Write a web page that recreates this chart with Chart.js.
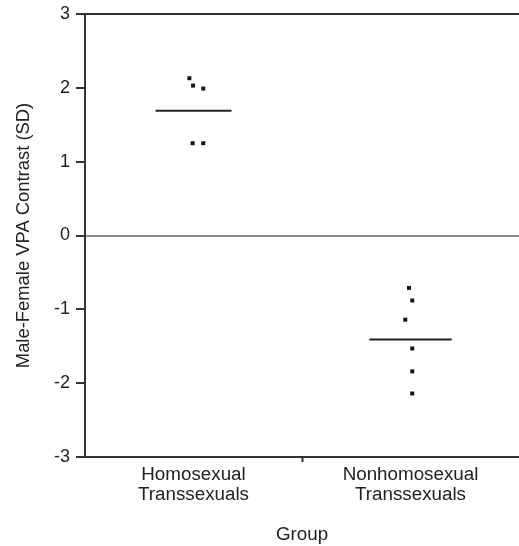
<!DOCTYPE html>
<html>
<head>
<meta charset="utf-8">
<script src="https://cdn.jsdelivr.net/npm/chart.js@4/dist/chart.umd.min.js"></script>
<style>
  html, body { margin: 0; padding: 0; background: #fff; overflow: hidden; }
  #wrap { width: 519px; height: 546px; position: relative; }
</style>
</head>
<body>
<div id="wrap"><canvas id="c"></canvas></div>
<script>
// ---- data ----
const categories = [['Homosexual', 'Transsexuals'], ['Nonhomosexual', 'Transsexuals']];
const homoValues = [2.13, 2.03, 1.99, 1.25, 1.25];
const homoJitter = [-0.019, -0.002, 0.045, -0.004, 0.045];
const nonhomoValues = [-0.71, -0.88, -1.14, -1.53, -1.84, -2.14];
const nonhomoJitter = [-0.007, 0.008, -0.024, 0.008, 0.008, 0.008];
const groupMeans = [1.69, -1.41];
const yTicks = [-3, -2, -1, 0, 1, 2, 3];
const yTitle = 'Male-Female VPA Contrast (SD)';
const xTitle = 'Group';

const FONT = "'Liberation Sans', Arial, sans-serif";
const meanHalf = [0.175, 0.19];

function pts(groupIndex, values, jitter) {
  return values.map((v, i) => ({ x: groupIndex + 1 + jitter[i], y: v }));
}
function meanLine(groupIndex) {
  const c = groupIndex + 1;
  return [{ x: c - meanHalf[groupIndex], y: groupMeans[groupIndex] },
          { x: c + meanHalf[groupIndex], y: groupMeans[groupIndex] }];
}

const pointStyle = {
  type: 'scatter', pointStyle: 'rect', pointRadius: 2.8,
  backgroundColor: '#111', borderColor: '#111', borderWidth: 0, showLine: false
};
const lineStyle = {
  type: 'line', borderColor: '#222', borderWidth: 2, pointRadius: 0, fill: false
};

new Chart(document.getElementById('c'), {
  type: 'scatter',
  data: {
    datasets: [
      Object.assign({ data: pts(0, homoValues, homoJitter) }, pointStyle),
      Object.assign({ data: pts(1, nonhomoValues, nonhomoJitter) }, pointStyle),
      Object.assign({ data: meanLine(0) }, lineStyle),
      Object.assign({ data: meanLine(1) }, lineStyle)
    ]
  },
  options: {
    responsive: true,
    maintainAspectRatio: false,
    animation: false,
    layout: { autoPadding: false, padding: { top: 14, right: 0, left: 0, bottom: 0 } },
    plugins: { legend: { display: false }, tooltip: { enabled: false } },
    scales: {
      x: {
        type: 'linear', min: 0.5, max: 2.5,
        afterBuildTicks: (s) => { s.ticks = [{ value: 1 }, { value: 1.5 }, { value: 2 }]; },
        afterFit: (s) => { s.height = 89; s.paddingLeft = 0; s.paddingRight = 0; },
        ticks: {
          autoSkip: false, maxRotation: 0,
          padding: 3,
          color: '#222',
          font: { family: FONT, size: 18.8, lineHeight: 1.06 },
          callback: (v) => v === 1 ? categories[0] : (v === 2 ? categories[1] : '')
        },
        grid: {
          drawOnChartArea: false, drawTicks: true, tickLength: 5,
          tickColor: (ctx) => (ctx.tick && ctx.tick.value === 1.5) ? '#333' : 'rgba(0,0,0,0)',
          tickWidth: 2
        },
        border: { display: true, color: '#333', width: 2 },
        title: { display: true, text: xTitle, color: '#222',
                 font: { family: FONT, size: 18.8 }, padding: { top: 4, bottom: 0 } }
      },
      y: {
        type: 'linear', min: -3, max: 3,
        afterBuildTicks: (s) => { s.ticks = yTicks.map(v => ({ value: v })); },
        afterFit: (s) => { s.width = 85; s.paddingTop = 0; s.paddingBottom = 0; },
        ticks: {
          padding: 6, color: '#222',
          font: { family: FONT, size: 18 }
        },
        grid: {
          drawOnChartArea: true, drawTicks: true, tickLength: 9,
          color: (ctx) => {
            if (!ctx.tick) return 'rgba(0,0,0,0)';
            if (ctx.tick.value === 0) return '#8c8c8c';
            if (ctx.tick.value === 3) return '#333';
            return 'rgba(0,0,0,0)';
          },
          tickColor: '#333',
          lineWidth: 2, tickWidth: 2
        },
        border: { display: true, color: '#333', width: 2 },
        title: { display: true, text: yTitle, color: '#222',
                 font: { family: FONT, size: 18.4 }, padding: { top: 13, bottom: 0 } }
      }
    }
  }
});
</script>
</body>
</html>
